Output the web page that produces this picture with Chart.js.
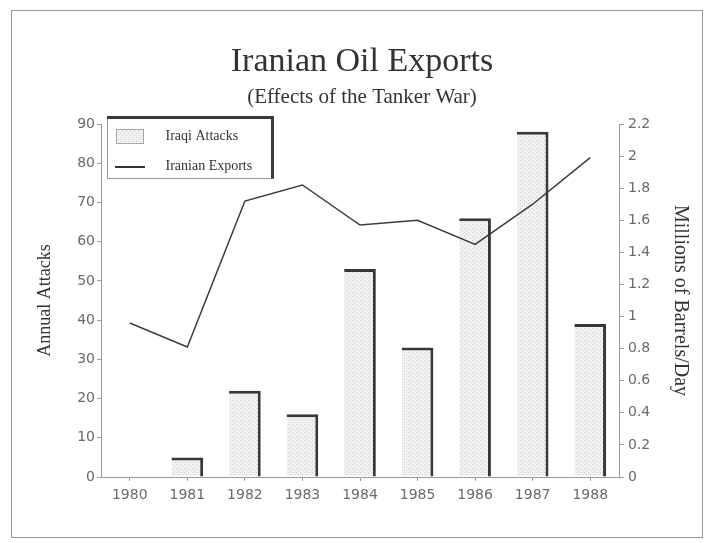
<!DOCTYPE html>
<html>
<head>
<meta charset="utf-8">
<script src="https://cdn.jsdelivr.net/npm/chart.js@4.4.1/dist/chart.umd.min.js"></script>
<style>
  html, body { margin: 0; padding: 0; background: #ffffff; }
  #frame { position: absolute; left: 11px; top: 10px; width: 692px; height: 528px;
           border: 1.5px solid #999999; box-sizing: border-box; }
  #wrap { position: absolute; left: 0; top: 0; width: 704px; height: 543px; }
</style>
</head>
<body>
<div id="frame"></div>
<div id="wrap"><canvas id="c" width="704" height="543"></canvas></div>
<script>
// ---- data ----
const years = ['1980', '1981', '1982', '1983', '1984', '1985', '1986', '1987', '1988'];
const iraqiAttacks = [0, 5, 22, 16, 53, 33, 66, 88, 39];
const iranianExports = [0.96, 0.81, 1.72, 1.82, 1.57, 1.60, 1.45, 1.70, 1.99];
const attackAxis = { min: 0, max: 90, step: 10 };
const exportAxis = { min: 0, max: 2.2, step: 0.2 };
const titleText = 'Iranian Oil Exports';
const subtitleText = '(Effects of the Tanker War)';
const leftTitle = 'Annual Attacks';
const rightTitle = 'Millions of Barrels/Day';
const seriesNames = ['Iraqi Attacks', 'Iranian Exports'];

// ---- styling ----
const serif = "'Liberation Serif', 'Times New Roman', serif";
const sans = "'DejaVu Sans', 'Liberation Sans', sans-serif";
const canvas = document.getElementById('c');
const ctx = canvas.getContext('2d');

const tile = document.createElement('canvas');
tile.width = 4; tile.height = 4;
const tg = tile.getContext('2d');
tg.fillStyle = '#f2f2f2'; tg.fillRect(0, 0, 4, 4);
tg.fillStyle = '#cccccc'; tg.fillRect(0, 0, 1, 1); tg.fillRect(2, 2, 1, 1);
const dotPattern = ctx.createPattern(tile, 'repeat');

const swatch = document.createElement('canvas');
swatch.width = 28; swatch.height = 15;
const sg = swatch.getContext('2d');
sg.fillStyle = sg.createPattern(tile, 'repeat'); sg.fillRect(0, 0, 28, 15);
sg.strokeStyle = '#a8a8a8'; sg.lineWidth = 1; sg.strokeRect(0.5, 0.5, 27, 14);

const lineSw = document.createElement('canvas');
lineSw.width = 30; lineSw.height = 2;
const lg2 = lineSw.getContext('2d');
lg2.fillStyle = '#333333'; lg2.fillRect(0, 0, 30, 2);

const legendFrame = {
  id: 'legendFrame',
  afterLayout(chart) {
    const lg = chart.legend;
    const a = chart.chartArea;
    if (!lg) return;
    const w = lg.width, h = lg.height;
    lg.left = a.left - 15.5; lg.right = lg.left + w;
    lg.top = a.top - 10.5; lg.bottom = lg.top + h;
  },
  afterDraw(chart) {
    const { ctx: c, chartArea: a } = chart;
    const x = a.left + 6, y = a.top - 8, w = 166, h = 62;
    c.save();
    c.strokeStyle = '#9a9a9a'; c.lineWidth = 1;
    c.strokeRect(x + 0.5, y + 0.5, w, h);
    c.strokeStyle = '#3a3a3a'; c.lineWidth = 3;
    c.beginPath();
    c.moveTo(x, y + 1.5); c.lineTo(x + w - 0.5, y + 1.5); c.lineTo(x + w - 0.5, y + h + 0.5);
    c.stroke();
    c.restore();
  }
};

const tickColor = '#6a6a6a';
const axisColor = '#9a9a9a';

new Chart(ctx, {
  data: {
    labels: years,
    datasets: [
      {
        type: 'bar',
        label: seriesNames[0],
        data: iraqiAttacks,
        yAxisID: 'y',
        backgroundColor: dotPattern,
        borderColor: '#383838',
        borderWidth: { top: 3, right: 3, left: 0, bottom: 0 },
        borderSkipped: false,
        barPercentage: 0.55,
        categoryPercentage: 1.0,
        order: 1
      },
      {
        type: 'line',
        label: seriesNames[1],
        data: iranianExports,
        yAxisID: 'y1',
        borderColor: '#3c3c3c',
        borderWidth: 1.5,
        pointRadius: 0,
        tension: 0,
        fill: false,
        order: 0
      }
    ]
  },
  options: {
    responsive: false,
    animation: false,
    devicePixelRatio: 1,
    layout: { padding: { left: 20, right: 0, top: 0, bottom: 0 } },
    plugins: {
      title: {
        display: true, text: titleText, color: '#333333',
        font: { family: serif, size: 34, weight: 'normal', lineHeight: 1.2 },
        padding: { top: 41.6, bottom: 0 }
      },
      subtitle: {
        display: true, text: subtitleText, color: '#333333',
        font: { family: serif, size: 21, weight: 'normal', lineHeight: 1.2 },
        padding: { top: 2, bottom: 14.4 }
      },
      legend: {
        display: true,
        position: 'chartArea',
        align: 'start',
        labels: {
          usePointStyle: true,
          pointStyleWidth: 57,
          padding: 16,
          color: '#333333',
          font: { family: serif, size: 14 },
          generateLabels: () => [
            { text: seriesNames[0], pointStyle: swatch, datasetIndex: 0, hidden: false, lineWidth: 0, fontColor: '#333333' },
            { text: seriesNames[1], pointStyle: lineSw, datasetIndex: 1, hidden: false, lineWidth: 0, fontColor: '#333333' }
          ]
        }
      },
      tooltip: { enabled: false }
    },
    scales: {
      x: {
        type: 'category',
        offset: true,
        grid: { display: true, drawOnChartArea: false, offset: false, tickLength: 4, color: axisColor },
        border: { display: true, color: axisColor, width: 1 },
        ticks: { color: tickColor, font: { family: sans, size: 14 }, padding: 6, maxRotation: 0 },
        afterFit: s => { s.height = 66; }
      },
      y: {
        position: 'left',
        min: attackAxis.min, max: attackAxis.max,
        grid: { display: true, drawOnChartArea: false, tickLength: 4, color: axisColor },
        border: { display: true, color: axisColor, width: 1 },
        ticks: { stepSize: attackAxis.step, color: tickColor, font: { family: sans, size: 14 }, padding: 2 },
        title: { display: true, text: leftTitle, color: '#333333',
                 font: { family: serif, size: 18 }, padding: { top: 14, bottom: 0 } },
        afterFit: s => { s.width = 81; }
      },
      y1: {
        position: 'right',
        min: exportAxis.min, max: exportAxis.max,
        grid: { display: true, drawOnChartArea: false, tickLength: 5, color: axisColor },
        border: { display: true, color: axisColor, width: 1 },
        ticks: { stepSize: exportAxis.step, color: tickColor, font: { family: sans, size: 14 }, padding: 4,
                 callback: v => String(Number(Number(v).toFixed(1))) },
        title: { display: true, text: rightTitle, color: '#333333',
                 font: { family: serif, size: 20 }, padding: { top: 12, bottom: 0 } },
        afterFit: s => { s.width = 85; }
      }
    }
  },
  plugins: [legendFrame]
});
</script>
</body>
</html>
